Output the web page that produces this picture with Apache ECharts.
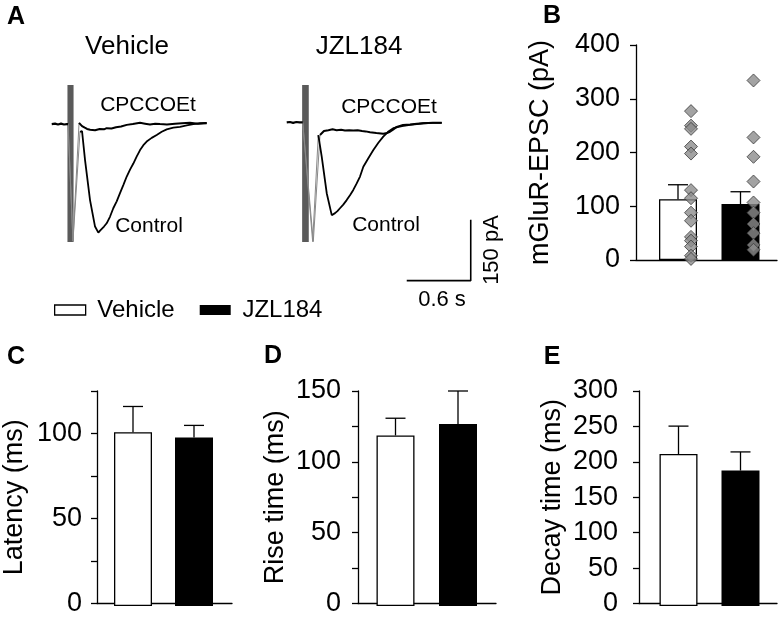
<!DOCTYPE html>
<html><head><meta charset="utf-8">
<script src="https://cdn.jsdelivr.net/npm/echarts@6/dist/echarts.min.js"></script>
<style>html,body{margin:0;padding:0;background:#fff}#c{width:780px;height:617px}</style>
</head><body><div id="c"></div>
<script>
const FONT = '"Liberation Sans", Arial, Helvetica, sans-serif';
const groups = ['Vehicle', 'JZL184'];

// Panel A: example traces, [time (ms), current (pA)]
const vehBaseline = [[110,0],[125,2],[141,1],[155,-1],[169,-1],[183,1],[197,1],[211,-1],[225,-1],[239,1],[253,0],[263,0]];
const vehControlStim = [[263,0],[309,-288],[375,-19]];
const vehControl = [[375,-19],[394,-17],[422,-88],[469,-187],[516,-252],[547,-267],[563,-262],[578,-261],[600,-252],[625,-244],[656,-228],[687,-207],[719,-190],[750,-170],[781,-150],[813,-129],[844,-112],[875,-97],[906,-80],[938,-64],[969,-52],[1000,-43],[1047,-34],[1094,-27],[1141,-19],[1188,-13],[1250,-9],[1313,-7],[1375,-3],[1437,0],[1500,2],[1563,3]];
const vehCpccStim = [[263,0],[309,-288],[366,3]];
const vehCpcc = [[366,3],[394,-5],[420,-9],[441,-12],[470,-14],[516,-15],[560,-12],[600,-13],[625,-10],[670,-11],[713,-8],[760,-6],[813,-2],[870,0],[938,3],[985,1],[1031,-1],[1080,1],[1125,0],[1190,-1],[1266,1],[1330,2],[1406,3],[1480,1],[1563,2]];
const jzlBaseline = [[110,4],[125,6],[140,5],[155,3],[170,3],[185,5],[200,5],[215,3],[230,4],[245,5],[260,4]];
const jzlControlStim = [[260,4],[353,-289],[406,-27]];
const jzlControl = [[406,-27],[438,-80],[485,-170],[532,-224],[547,-220],[563,-219],[585,-214],[609,-207],[640,-198],[672,-187],[703,-175],[734,-162],[766,-146],[797,-129],[828,-105],[875,-84],[922,-64],[969,-46],[1015,-31],[1060,-19],[1109,-10],[1190,-5],[1266,-2],[1330,0],[1390,2],[1480,3],[1563,3]];
const jzlCpccStim = [[260,4],[359,-289],[422,-27]];
const jzlCpcc = [[422,-27],[459,-17],[500,-15],[540,-13],[578,-15],[620,-14],[656,-16],[695,-15],[734,-16],[775,-15],[816,-17],[850,-18],[891,-20],[950,-22],[1015,-24],[1050,-22],[1078,-19],[1110,-13],[1141,-7],[1200,-2],[1266,-1],[1330,1],[1390,2],[1480,3],[1563,3]];
const vehArtifactTimes = [263, 272, 281, 291, 300, 309];
const jzlArtifactTimes = [260, 270, 280, 290, 301, 311];
const artifactRange = [-290, 96];
const scaleBarTime = 600;     // ms  (0.6 s)
const scaleBarCurrent = 150;  // pA

// Panels B-E: mean, SEM (Vehicle, JZL184)
const epscMean = [113, 104], epscSem = [27, 23];
const epscVehicleCells = [277, 250, 244, 211, 198, 130, 115, 88, 73, 43, 36, 25, 8, 2];
const epscJzlCells = [334, 228, 192, 146, 107, 88, 67, 50, 28, 19];
const latencyMean = [101, 98], latencySem = [15, 7];
const riseMean = [119, 127], riseSem = [12, 23];
const decayMean = [212, 189], decaySem = [39, 26];

const grid = [], xAxis = [], yAxis = [], series = [];
function addGrid(g) { grid.push(g); return grid.length - 1; }

function traceGrid(left, width, tMax) {
  const gi = addGrid({ left: left, top: 59, width: width, height: 244 });
  xAxis.push({ gridIndex: gi, type: 'value', min: 0, max: tMax, show: false });
  yAxis.push({ gridIndex: gi, type: 'value', min: -440, max: 160, show: false });
  return gi;
}
function traceSeries(gi, data, color, width, z) {
  series.push({ type: 'line', xAxisIndex: gi, yAxisIndex: gi, data: data, symbol: 'none', silent: true,
    lineStyle: { color: color, width: width }, z: z || 2, animation: false, connectNulls: false });
}
function artifactData(times) {
  const d = [];
  times.forEach(t => { d.push([t, artifactRange[0]], [t, artifactRange[1]], [t, '-']); });
  return d;
}

const gA1 = traceGrid(40, 200, 1875);
const gA2 = traceGrid(275, 240, 2250);
traceSeries(gA1, artifactData(vehArtifactTimes), '#5a5a5a', 1.2, 1);
traceSeries(gA1, vehControlStim, '#888', 1, 1);
traceSeries(gA1, vehCpccStim, '#888', 1, 1);
traceSeries(gA1, vehBaseline, '#000', 2.2);
traceSeries(gA1, vehCpcc, '#000', 2);
traceSeries(gA1, vehControl, '#000', 1.8);
traceSeries(gA2, artifactData(jzlArtifactTimes), '#5a5a5a', 1.2, 1);
traceSeries(gA2, jzlControlStim, '#888', 1, 1);
traceSeries(gA2, jzlCpccStim, '#888', 1, 1);
traceSeries(gA2, jzlBaseline, '#000', 2.2);
traceSeries(gA2, jzlCpcc, '#000', 2);
traceSeries(gA2, jzlControl, '#000', 1.8);
const sbT0 = 1235, sbV0 = -385;
traceSeries(gA2, [[sbT0, sbV0], [sbT0 + scaleBarTime, sbV0], [sbT0 + scaleBarTime, sbV0 + scaleBarCurrent]], '#000', 1.6);

function errRender(capW) {
  return function (params, api) {
    const p0 = api.coord([api.value(0), api.value(2)]);
    const p1 = api.coord([api.value(0), api.value(1)]);
    const st = { stroke: '#000', lineWidth: 1.3 };
    return { type: 'group', children: [
      { type: 'line', shape: { x1: p0[0], y1: p0[1], x2: p1[0], y2: p1[1] }, style: st },
      { type: 'line', shape: { x1: p1[0] - capW / 2, y1: p1[1], x2: p1[0] + capW / 2, y2: p1[1] }, style: st }
    ] };
  };
}

function barPanel(cfg) {
  const ga = addGrid({ left: cfg.axisLeft, top: cfg.top, width: cfg.axisWidth, height: 215 });
  xAxis.push({ gridIndex: ga, type: 'value', min: 0, max: 1,
    axisLine: { show: true, onZero: false, lineStyle: { color: '#000', width: 1.3 } },
    axisTick: { show: false }, axisLabel: { show: false }, splitLine: { show: false } });
  yAxis.push({ gridIndex: ga, type: 'value', min: cfg.min, max: cfg.max, interval: cfg.interval,
    name: cfg.name, nameLocation: 'middle', nameGap: cfg.nameGap,
    nameTextStyle: { fontSize: 27, color: '#000', fontFamily: FONT },
    axisLine: { show: true, onZero: false, lineStyle: { color: '#000', width: 1.3 } },
    axisTick: { show: true, length: 6, lineStyle: { color: '#000', width: 1.3 } },
    axisLabel: { fontSize: 27, color: '#000', fontFamily: FONT, margin: cfg.labelMargin,
      formatter: v => (v % cfg.labelStep === 0 ? String(v) : '') },
    splitLine: { show: false } });
  const gb = addGrid({ left: cfg.barLeft, top: cfg.top, width: cfg.barGridWidth, height: 215 });
  xAxis.push({ gridIndex: gb, type: 'category', data: groups, show: false });
  yAxis.push({ gridIndex: gb, type: 'value', min: cfg.min, max: cfg.max, show: false });
  series.push({ type: 'bar', name: groups[0], xAxisIndex: gb, yAxisIndex: gb, data: [cfg.mean[0], '-'],
    barWidth: 38, barGap: '-100%', animation: false,
    itemStyle: { color: '#fff', borderColor: '#000', borderWidth: 1.3 } });
  series.push({ type: 'bar', name: groups[1], xAxisIndex: gb, yAxisIndex: gb, data: ['-', cfg.mean[1]],
    barWidth: 38, barGap: '-100%', animation: false, itemStyle: { color: '#000' } });
  series.push({ type: 'custom', xAxisIndex: gb, yAxisIndex: gb, renderItem: errRender(20), animation: false,
    data: cfg.mean.map((m, i) => [i, m + cfg.sem[i], m]), z: 3 });
  return gb;
}

const gB = barPanel({ axisLeft: 636, axisWidth: 141, top: 45, min: 0, max: 400, interval: 100, labelStep: 100,
  name: 'mGluR-EPSC (pA)', nameGap: 82, labelMargin: 16, barLeft: 646.75, barGridWidth: 125, mean: epscMean, sem: epscSem });
barPanel({ axisLeft: 96, axisWidth: 136, top: 391, min: 0, max: 125, interval: 25, labelStep: 50,
  name: 'Latency (ms)', nameGap: 69, labelMargin: 15, barLeft: 102.5, barGridWidth: 122, mean: latencyMean, sem: latencySem });
barPanel({ axisLeft: 358, axisWidth: 138, top: 391, min: 0, max: 150, interval: 25, labelStep: 50,
  name: 'Rise time (ms)', nameGap: 69, labelMargin: 17, barLeft: 364.25, barGridWidth: 125, mean: riseMean, sem: riseSem });
barPanel({ axisLeft: 639, axisWidth: 138, top: 391, min: 0, max: 300, interval: 50, labelStep: 50,
  name: 'Decay time (ms)', nameGap: 73, labelMargin: 21, barLeft: 647.5, barGridWidth: 124, mean: decayMean, sem: decaySem });

const cellStyle = { color: '#8c8c8c', borderColor: '#3a3a3a', borderWidth: 1 };
series.push({ type: 'scatter', xAxisIndex: gB, yAxisIndex: gB, symbol: 'diamond', symbolSize: 13, symbolOffset: [13, 0],
  itemStyle: cellStyle, z: 6, animation: false, data: epscVehicleCells.map(v => [0, v]) });
series.push({ type: 'scatter', xAxisIndex: gB, yAxisIndex: gB, symbol: 'diamond', symbolSize: 13, symbolOffset: [13, 0],
  itemStyle: cellStyle, z: 6, animation: false, data: epscJzlCells.map(v => [1, v]) });

function txt(s, x, y, size, weight, rot) {
  return { type: 'text', x: x, y: y, rotation: rot || 0, silent: true,
    style: { text: s, fontSize: size, fontWeight: weight || 'normal', fontFamily: FONT, fill: '#000',
      align: 'center', verticalAlign: 'middle' } };
}
const graphic = [
  txt('A', 16, 17, 25, 'bold'), txt('B', 552, 16, 25, 'bold'), txt('C', 16, 357, 25, 'bold'),
  txt('D', 273, 356, 25, 'bold'), txt('E', 552, 357, 25, 'bold'),
  txt('Vehicle', 127, 47, 26), txt('JZL184', 359, 47, 26),
  txt('CPCCOEt', 148, 105, 21), txt('CPCCOEt', 389, 107, 21),
  txt('Control', 149, 226, 21), txt('Control', 386, 225, 21),
  txt('0.6 s', 442, 300, 22), txt('150 pA', 492, 250, 22, 'normal', Math.PI / 2)
];

const chart = echarts.init(document.getElementById('c'), null, { renderer: 'canvas' });
chart.setOption({
  backgroundColor: '#fff',
  animation: false,
  grid: grid, xAxis: xAxis, yAxis: yAxis, series: series, graphic: graphic,
  legend: { left: 54, top: 298, padding: 0, itemWidth: 31, itemHeight: 10, itemGap: 25, selectedMode: false,
    formatter: n => ' ' + n,
    textStyle: { fontSize: 24, color: '#000', fontFamily: FONT },
    data: [ { name: 'Vehicle', icon: 'rect', itemStyle: { color: '#fff', borderColor: '#000', borderWidth: 1.3 } },
            { name: 'JZL184', icon: 'rect', itemStyle: { color: '#000' } } ] }
});
</script>
</body></html>
